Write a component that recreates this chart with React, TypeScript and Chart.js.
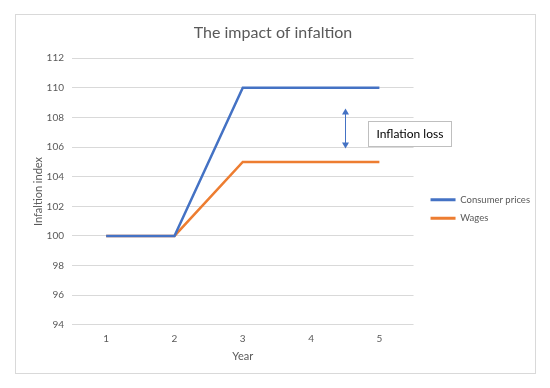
import React, { useEffect, useRef } from "react";
import { Chart, registerables } from "chart.js";

Chart.register(...registerables);

// ---- data ----
const years = ["1", "2", "3", "4", "5"];
const consumerPrices = [100, 100, 110, 110, 110];
const wages = [100, 100, 105, 105, 105];
const yMin = 94;
const yMax = 112;
const yStep = 2;

const chartTitle = "The impact of infaltion";
const xTitle = "Year";
const yTitle = "Infaltion index";
const seriesNames = ["Consumer prices", "Wages"];

// annotation (in data coordinates: category index / y value)
const annotationText = "Inflation loss";
const arrowIndex = 3.5;
const arrowFrom = 105.9;
const arrowTo = 108.6;
const labelIndex = 3.84;
const labelValue = 106.9;

const FONT = "Lato, 'Liberation Sans', sans-serif";
const GREY = "#595959";
const BLUE = "#4472C4";
const ORANGE = "#ED7D31";

const framePlugin = {
  id: "frame",
  beforeDraw(chart: any) {
    const { ctx } = chart;
    ctx.save();
    ctx.fillStyle = "#ffffff";
    ctx.fillRect(0, 0, chart.width, chart.height);
    ctx.strokeStyle = "#d9d9d9";
    ctx.lineWidth = 1;
    ctx.strokeRect(15.5, 14.5, 520, 359);
    ctx.restore();
  },
};

const annotationPlugin = {
  id: "inflationLoss",
  afterDatasetsDraw(chart: any) {
    const { ctx } = chart;
    const xs = chart.scales.x;
    const ys = chart.scales.y;
    const ax = Math.round(xs.getPixelForValue(arrowIndex)) + 0.5;
    const yTop = ys.getPixelForValue(arrowTo);
    const yBot = ys.getPixelForValue(arrowFrom);
    ctx.save();
    ctx.strokeStyle = BLUE;
    ctx.fillStyle = BLUE;
    ctx.lineWidth = 1;
    ctx.beginPath();
    ctx.moveTo(ax, yTop + 5);
    ctx.lineTo(ax, yBot - 5);
    ctx.stroke();
    ctx.beginPath();
    ctx.moveTo(ax, yTop);
    ctx.lineTo(ax - 3.5, yTop + 6);
    ctx.lineTo(ax + 3.5, yTop + 6);
    ctx.closePath();
    ctx.fill();
    ctx.beginPath();
    ctx.moveTo(ax, yBot);
    ctx.lineTo(ax - 3.5, yBot - 6);
    ctx.lineTo(ax + 3.5, yBot - 6);
    ctx.closePath();
    ctx.fill();

    const lx = Math.round(xs.getPixelForValue(labelIndex)) + 0.5;
    const ly = ys.getPixelForValue(labelValue);
    ctx.font = `12px ${FONT}`;
    const tw = ctx.measureText(annotationText).width;
    const w = Math.round(tw + 16);
    const h = 25;
    const top = Math.round(ly - h / 2) + 0.5;
    ctx.fillStyle = "#ffffff";
    ctx.fillRect(lx, top, w, h);
    ctx.strokeStyle = "#bfbfbf";
    ctx.strokeRect(lx, top, w, h);
    ctx.fillStyle = "#000000";
    ctx.textBaseline = "middle";
    ctx.textAlign = "left";
    ctx.fillText(annotationText, lx + 8, top + h / 2 + 0.5);
    ctx.restore();
  },
};

export default function App() {
  const canvasRef = useRef<HTMLCanvasElement | null>(null);

  useEffect(() => {
    const canvas = canvasRef.current;
    if (!canvas) return;
    const chart = new Chart(canvas, {
      type: "line",
      data: {
        labels: years,
        datasets: [
          {
            label: seriesNames[0],
            data: consumerPrices,
            borderColor: BLUE,
            backgroundColor: BLUE,
            borderWidth: 2.5,
            pointRadius: 0,
            tension: 0,
          },
          {
            label: seriesNames[1],
            data: wages,
            borderColor: ORANGE,
            backgroundColor: ORANGE,
            borderWidth: 2.5,
            pointRadius: 0,
            tension: 0,
          },
        ],
      },
      options: {
        responsive: false,
        animation: false,
        layout: { padding: { top: 20, left: 6, right: 10, bottom: 13 } },
        plugins: {
          title: {
            display: true,
            text: chartTitle,
            color: GREY,
            font: { family: FONT, size: 16, weight: "normal" },
            padding: { top: 3, bottom: 16 },
          },
          legend: {
            position: "right",
            maxWidth: 200,
            title: { display: true, text: "", padding: 5.5, font: { size: 10 } },
            labels: {
              boxWidth: 25,
              boxHeight: 3,
              padding: 9,
              color: GREY,
              font: { family: FONT, size: 9.5 },
              generateLabels: (ch: any) =>
                Chart.defaults.plugins.legend.labels
                  .generateLabels(ch)
                  .map((l: any) => ({ ...l, lineWidth: 0, fillStyle: l.strokeStyle })),
            },
          },
          tooltip: { enabled: false },
        },
        scales: {
          x: {
            type: "category",
            offset: true,
            grid: { display: false, drawTicks: false },
            border: { display: false },
            ticks: { color: GREY, padding: 8, font: { family: FONT, size: 10 } },
            title: {
              display: true,
              text: xTitle,
              color: GREY,
              font: { family: FONT, size: 11 },
              padding: { top: -3, bottom: 12 },
            },
          },
          y: {
            min: yMin,
            max: yMax,
            grid: { color: "#d9d9d9", drawTicks: false },
            border: { display: false },
            ticks: {
              stepSize: yStep,
              color: GREY,
              padding: 8,
              font: { family: FONT, size: 10 },
            },
            title: {
              display: true,
              text: yTitle,
              color: GREY,
              font: { family: FONT, size: 11 },
              padding: { top: 26, bottom: 4 },
            },
            afterFit: (s: any) => {
              s.width = 66;
            },
          },
          gap: {
            type: "linear",
            position: "right",
            display: true,
            grid: { display: false, drawTicks: false },
            border: { display: false },
            ticks: { display: false },
            afterFit: (s: any) => {
              s.width = 8;
            },
          },
        },
      } as any,
      plugins: [framePlugin, annotationPlugin],
    });
    return () => chart.destroy();
  }, []);

  return (
    <div style={{ position: "fixed", left: 0, top: 0, width: 550, height: 388 }}>
      <canvas ref={canvasRef} width={550} height={388} />
    </div>
  );
}
